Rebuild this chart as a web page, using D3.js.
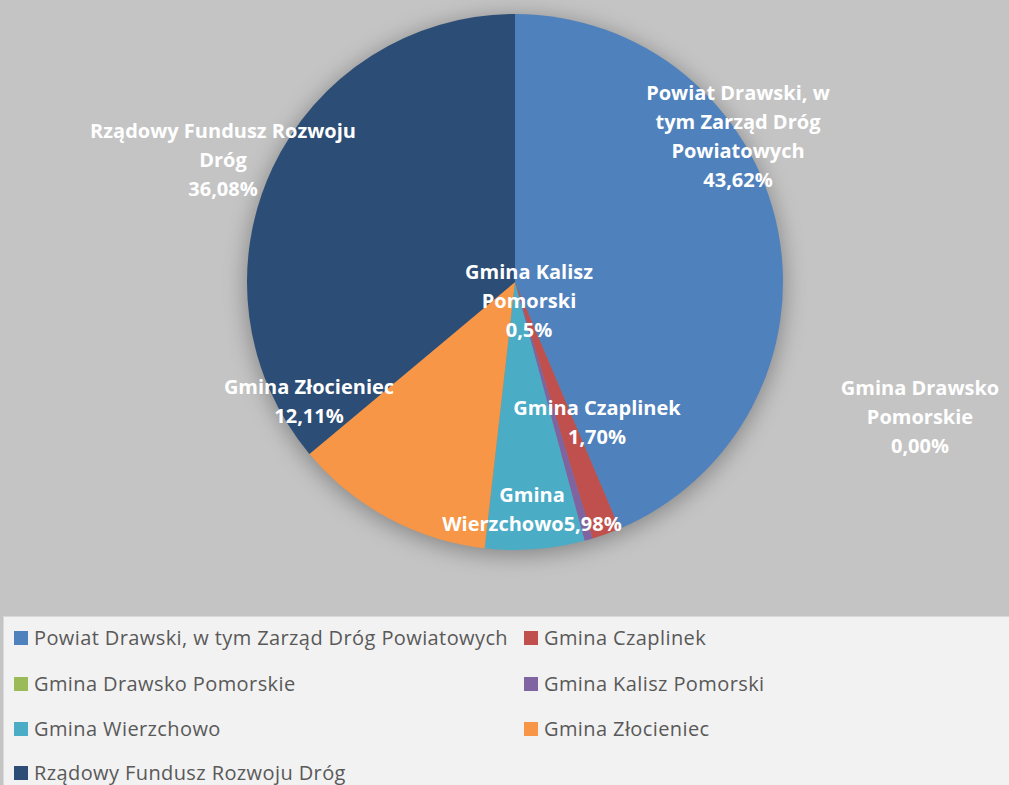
<!DOCTYPE html>
<html>
<head>
<meta charset="utf-8">
<script src="https://cdn.jsdelivr.net/npm/d3@7"></script>
<style>
  html, body { margin: 0; padding: 0; background: #c4c4c4; }
  svg { display: block; }
</style>
</head>
<body>
<svg id="chart" width="1009" height="785"></svg>
<script>
// data
var categories = [
    "Powiat Drawski, w tym Zarząd Dróg Powiatowych",
    "Gmina Czaplinek",
    "Gmina Drawsko Pomorskie",
    "Gmina Kalisz Pomorski",
    "Gmina Wierzchowo",
    "Gmina Złocieniec",
    "Rządowy Fundusz Rozwoju Dróg"
];
var values = [43.62, 1.70, 0.00, 0.5, 5.98, 12.11, 36.08];
var valueLabels = ["43,62%", "1,70%", "0,00%", "0,5%", "5,98%", "12,11%", "36,08%"];
var labelLines = [
    ["Powiat Drawski, w", "tym Zarząd Dróg", "Powiatowych"],
    ["Gmina Czaplinek"],
    ["Gmina Drawsko", "Pomorskie"],
    ["Gmina Kalisz", "Pomorski"],
    ["Gmina", "Wierzchowo"],
    ["Gmina Złocieniec"],
    ["Rządowy Fundusz Rozwoju", "Dróg"]
];
var colors = ["#4f81bd", "#c0504d", "#9bbb59", "#8064a2", "#4bacc6", "#f79646", "#2c4d75"];

// where each data label block sits, relative to the pie centre (manual Excel placement)
var labelOffsets = [[223, -146], [82, 140], [405, 135], [14, 19], [17, 227], [-206, 119], [-292, -122]];

var width = 1009, height = 785;
var cx = 515, cy = 282, radius = 268;

var svg = d3.select("#chart");

svg.append("rect")
    .attr("width", width)
    .attr("height", height)
    .attr("fill", "#c4c4c4");

var defs = svg.append("defs");
var shadow = defs.append("filter")
    .attr("id", "pieShadow")
    .attr("x", "-30%").attr("y", "-30%")
    .attr("width", "160%").attr("height", "160%");
shadow.append("feGaussianBlur")
    .attr("in", "SourceAlpha")
    .attr("stdDeviation", 12);
shadow.append("feOffset").attr("dy", 4).attr("result", "blur");
shadow.append("feComponentTransfer")
    .append("feFuncA").attr("type", "linear").attr("slope", 0.35);

var g = svg.append("g")
    .attr("transform", "translate(" + cx + "," + cy + ")");

var color = d3.scaleOrdinal()
    .domain(categories)
    .range(colors);

var pie = d3.pie()
    .sort(null)
    .value(function (d) { return d.value; });

var data = categories.map(function (c, i) {
    return { name: c, value: values[i], label: valueLabels[i], lines: labelLines[i], off: labelOffsets[i] };
});
var data_ready = pie(data);

var arcGenerator = d3.arc()
    .innerRadius(0)
    .outerRadius(radius);

// soft shadow under the pie
g.append("circle")
    .attr("r", radius)
    .attr("fill", "#000")
    .attr("filter", "url(#pieShadow)");

g.selectAll("path.slice")
    .data(data_ready)
    .enter()
    .append("path")
    .attr("class", "slice")
    .attr("d", arcGenerator)
    .attr("fill", function (d) { return color(d.data.name); });

// data labels
var lineH = 29;
var labels = g.selectAll("text.lbl")
    .data(data_ready)
    .enter()
    .append("text")
    .attr("class", "lbl")
    .attr("text-anchor", "middle")
    .attr("font-family", "'Open Sans', sans-serif")
    .attr("font-weight", "700")
    .attr("font-size", "20px")
    .attr("fill", "#ffffff");

labels.each(function (d) {
    var t = d3.select(this);
    var lines = d.data.lines.slice();
    // Wierzchowo's value sits on the same line as its name
    if (d.data.name === "Gmina Wierzchowo") {
        lines[lines.length - 1] += d.data.label;
    } else {
        lines.push(d.data.label);
    }
    var top = d.data.off[1] - (lines.length - 1) * lineH / 2;
    lines.forEach(function (l, i) {
        t.append("tspan")
            .attr("x", d.data.off[0])
            .attr("y", top + i * lineH)
            .attr("dy", "0.35em")
            .text(l);
    });
});

// legend
var legendTop = 616;
var legend = svg.append("g");
legend.append("rect")
    .attr("x", 3.5)
    .attr("y", legendTop + 0.5)
    .attr("width", 1010)
    .attr("height", 200)
    .attr("fill", "#f2f2f2")
    .attr("stroke", "#d9d9d9");

var colX = [14, 524];
var rowY = [638, 684, 729, 773];

var item = legend.selectAll("g.item")
    .data(categories)
    .enter()
    .append("g")
    .attr("class", "item")
    .attr("transform", function (d, i) {
        return "translate(" + colX[i % 2] + "," + rowY[Math.floor(i / 2)] + ")";
    });

item.append("rect")
    .attr("x", 0)
    .attr("y", -7)
    .attr("width", 14)
    .attr("height", 14)
    .attr("fill", function (d) { return color(d); });

item.append("text")
    .attr("x", 20)
    .attr("y", 0)
    .attr("dy", "0.35em")
    .attr("font-family", "'Open Sans', sans-serif")
    .attr("font-size", "20px")
    .attr("letter-spacing", "0.4px")
    .attr("fill", "#595959")
    .text(function (d) { return d; });
</script>
</body>
</html>
